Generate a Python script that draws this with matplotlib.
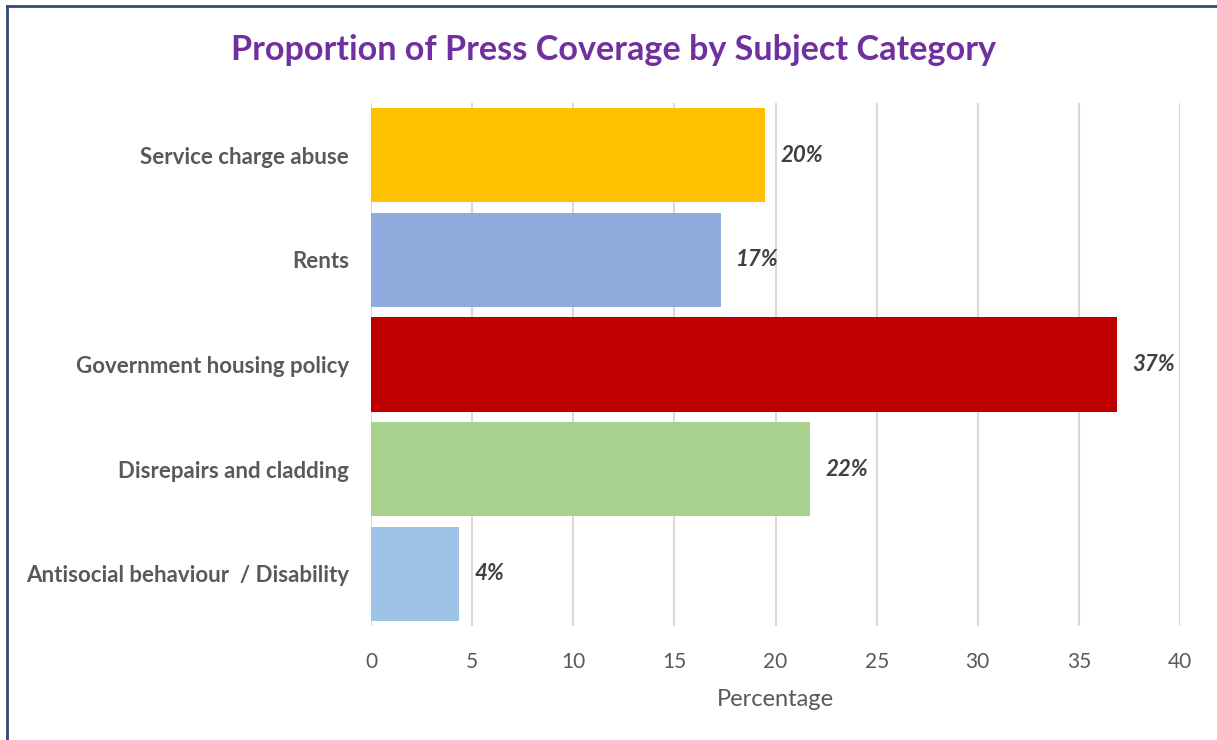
import matplotlib.pyplot as plt
import matplotlib.lines as mlines

categories = ['Service charge abuse', 'Rents', 'Government housing policy',
              'Disrepairs and cladding', 'Antisocial behaviour  / Disability']
values = [19.5, 17.3, 36.9, 21.7, 4.35]
labels = ['20%', '17%', '37%', '22%', '4%']
colors = ['#FFC000', '#8FAADC', '#C00000', '#A9D18E', '#9DC3E6']

plt.rcParams['font.family'] = ['Lato', 'DejaVu Sans']

fig = plt.figure(figsize=(12.17, 7.40), dpi=100)
ax = fig.add_axes([0.3049, 0.154, 0.6647, 0.7068])

ypos = list(range(len(categories)))
ax.barh(ypos, values, height=0.9, color=colors, zorder=3)
for y, v, lab in zip(ypos, values, labels):
    ax.text(v + 0.75, y, lab, va='center', ha='left', fontsize=16,
            fontweight='bold', fontstyle='italic', color='#404040')

ax.set_ylim(len(categories) - 0.5, -0.5)
ax.set_xlim(0, 40)
ax.set_xticks(range(0, 41, 5))
ax.set_yticks(ypos)
ax.set_yticklabels(categories, fontsize=16, fontweight='bold', color='#595959')
ax.tick_params(axis='y', length=0, pad=16)
ax.tick_params(axis='x', length=0, labelsize=15, labelcolor='#595959', pad=19)
ax.grid(axis='x', color='#D9D9D9', linewidth=1.5, zorder=0)
for s in ax.spines.values():
    s.set_visible(False)
ax.set_xlabel('Percentage', fontsize=17, color='#595959', labelpad=12)

fig.text(0.504, 0.932, 'Proportion of Press Coverage by Subject Category',
         ha='center', va='center', fontsize=24.6, fontweight='bold', color='#7030A0')

# chart border (top and left edges visible)
fig.add_artist(mlines.Line2D([7 / 1217, 7 / 1217], [0, 1 - 6 / 740],
                             color='#2F4A7A', linewidth=2, transform=fig.transFigure))
fig.add_artist(mlines.Line2D([7 / 1217, 1], [1 - 6 / 740, 1 - 6 / 740],
                             color='#2F4A7A', linewidth=2, transform=fig.transFigure))

fig.savefig('out.png', dpi=100)
